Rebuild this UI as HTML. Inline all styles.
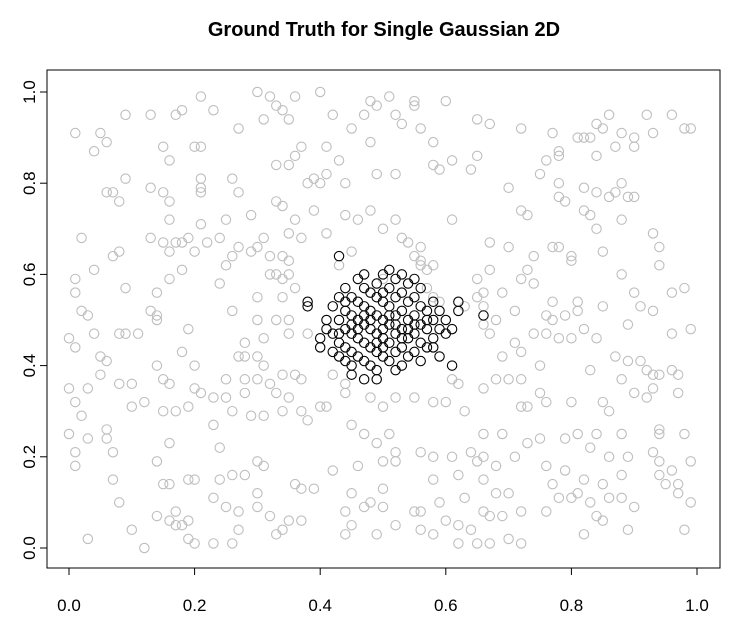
<!DOCTYPE html>
<html><head><meta charset="utf-8"><style>
html,body{margin:0;padding:0;background:#fff;}
svg{display:block;font-family:"Liberation Sans",Arial,sans-serif;}
</style></head><body>
<svg id="chart" width="743" height="630" viewBox="0 0 743 630">
<text x="384" y="36" text-anchor="middle" font-size="20" font-weight="bold">Ground Truth for Single Gaussian 2D</text>
<rect x="47" y="70" width="673" height="498" fill="none" stroke="#000" stroke-width="1"/>
<g id="xaxis"></g>
<g id="yaxis"></g>
<g id="gray"></g>
<g id="black"></g>
</svg>
<script>
const xTicks=[0,0.2,0.4,0.6,0.8,1.0];
const yTicks=[0,0.2,0.4,0.6,0.8,1.0];
const tickLabels=["0.0","0.2","0.4","0.6","0.8","1.0"];
const grayX=[0.01,0.05,0.04,0.06,0.09,0.13,0.07,0.09,0.06,0.08,0.02,0.01,0.01,0.02,0.03,0.07,0.08,0.04,0.09,0.00,0.01,0.04,0.08,0.09,0.11,0.05,0.06,0.05,0.00,0.03,0.08,0.10,0.01,0.02,0.10,0.00,0.03,0.06,0.06,0.07,0.01,0.01,0.07,0.08,0.10,0.03,0.12,
0.18,0.15,0.16,0.17,0.13,0.15,0.16,0.16,0.13,0.15,0.16,0.17,0.18,0.19,0.20,0.16,0.18,0.14,0.13,0.14,0.14,0.19,0.18,0.20,0.14,0.15,0.16,0.12,0.15,0.17,0.19,0.20,0.16,0.14,0.15,0.16,0.19,0.20,0.14,0.16,0.17,0.18,0.19,0.17,0.19,0.2,0.2,0.21,0.21,0.22,0.21,0.21,0.21,0.21,0.24,
0.23,0.27,0.30,0.32,0.33,0.34,0.36,0.31,0.35,0.37,0.36,0.33,0.35,0.38,0.39,0.26,0.25,0.29,0.27,0.33,0.34,0.36,0.37,0.35,0.31,0.30,0.29,0.32,0.34,0.35,0.27,0.25,0.26,0.24,0.26,0.30,0.30,0.32,0.33,0.34,0.35,0.36,0.34,0.33,0.35,0.35,0.28,0.27,0.28,0.30,0.31,0.31,0.38,0.25,0.28,0.30,0.32,0.34,0.36,0.37,0.33,0.35,0.28,0.25,0.23,0.21,0.26,0.29,0.31,0.34,0.37,0.38,0.23,0.24,0.30,0.31,0.24,0.26,0.28,0.36,0.37,0.30,0.23,0.25,0.27,0.30,0.32,0.35,0.37,0.27,0.33,0.34,0.23,0.26,0.39,0.39,
0.40,0.42,0.45,0.47,0.48,0.49,0.51,0.52,0.55,0.55,0.53,0.56,0.58,0.48,0.41,0.43,0.40,0.41,0.44,0.49,0.52,0.58,0.59,0.61,0.44,0.46,0.48,0.50,0.52,0.53,0.54,0.55,0.56,0.56,0.56,0.57,0.58,0.41,0.43,0.45,0.50,0.57,0.58,0.59,0.42,0.44,0.41,0.40,0.44,0.48,0.50,0.52,0.55,0.58,0.60,0.45,0.47,0.51,0.52,0.49,0.50,0.52,0.46,0.56,0.58,0.58,0.42,0.45,0.47,0.48,0.50,0.50,0.55,0.56,0.45,0.44,0.52,0.60,0.49,0.58,0.56,0.44,0.59,
0.60,0.65,0.67,0.72,0.77,0.78,0.76,0.81,0.78,0.65,0.64,0.70,0.72,0.73,0.78,0.78,0.79,0.75,0.61,0.67,0.70,0.67,0.73,0.74,0.77,0.78,0.80,0.80,0.65,0.66,0.69,0.72,0.74,0.63,0.65,0.66,0.68,0.71,0.76,0.77,0.77,0.79,0.66,0.67,0.71,0.74,0.76,0.78,0.80,0.69,0.72,0.75,0.68,0.70,0.72,0.75,0.76,0.72,0.73,0.80,0.62,0.61,0.63,0.66,0.66,0.69,0.73,0.75,0.79,0.61,0.64,0.66,0.68,0.71,0.76,0.77,0.79,0.62,0.65,0.63,0.66,0.68,0.70,0.72,0.76,0.78,0.80,0.62,0.64,0.66,0.67,0.69,0.70,0.72,0.62,0.65,0.67,
0.84,0.85,0.86,0.88,0.90,0.92,0.93,0.96,0.98,0.99,0.83,0.82,0.84,0.87,0.90,0.82,0.84,0.86,0.87,0.88,0.89,0.90,0.82,0.83,0.88,0.93,0.94,0.94,0.84,0.85,0.88,0.90,0.96,0.98,0.81,0.85,0.89,0.91,0.93,0.96,0.99,0.82,0.84,0.83,0.87,0.89,0.91,0.92,0.93,0.94,0.96,0.97,0.88,0.93,0.90,0.92,0.97,0.85,0.86,0.81,0.84,0.88,0.94,0.94,0.98,0.83,0.86,0.89,0.93,0.94,0.96,0.99,0.82,0.85,0.88,0.94,0.95,0.97,0.81,0.83,0.86,0.88,0.90,0.97,0.84,0.85,0.89,0.99,0.98,0.82,0.81];
const grayY=[0.91,0.91,0.87,0.89,0.95,0.95,0.78,0.81,0.78,0.76,0.68,0.59,0.56,0.52,0.51,0.64,0.65,0.61,0.57,0.46,0.44,0.47,0.47,0.47,0.47,0.42,0.41,0.38,0.35,0.35,0.36,0.36,0.32,0.29,0.31,0.25,0.24,0.26,0.24,0.21,0.21,0.18,0.15,0.10,0.04,0.02,0.00,
0.96,0.88,0.85,0.95,0.79,0.78,0.76,0.72,0.68,0.67,0.65,0.67,0.67,0.68,0.65,0.59,0.61,0.56,0.52,0.51,0.50,0.48,0.43,0.40,0.40,0.37,0.36,0.32,0.30,0.30,0.31,0.35,0.23,0.19,0.14,0.14,0.15,0.15,0.07,0.06,0.05,0.05,0.06,0.08,0.02,0.01,0.88,0.88,0.99,0.67,0.81,0.79,0.78,0.71,0.68,
0.96,0.92,1.0,0.99,0.97,0.96,0.99,0.94,0.94,0.88,0.86,0.84,0.84,0.8,0.81,0.81,0.72,0.73,0.78,0.76,0.75,0.72,0.68,0.69,0.68,0.66,0.65,0.64,0.64,0.63,0.66,0.62,0.64,0.58,0.52,0.55,0.5,0.6,0.6,0.59,0.6,0.57,0.55,0.5,0.5,0.47,0.45,0.42,0.42,0.42,0.4,0.46,0.47,0.37,0.37,0.37,0.36,0.38,0.38,0.37,0.34,0.33,0.34,0.33,0.33,0.34,0.30,0.29,0.29,0.3,0.3,0.28,0.27,0.22,0.19,0.18,0.15,0.16,0.16,0.14,0.13,0.12,0.11,0.09,0.08,0.09,0.07,0.06,0.06,0.04,0.03,0.04,0.01,0.01,0.13,0.74,
1.0,0.95,0.92,0.95,0.98,0.97,0.99,0.95,0.97,0.98,0.93,0.92,0.89,0.89,0.88,0.85,0.8,0.82,0.80,0.82,0.82,0.84,0.83,0.85,0.73,0.72,0.74,0.7,0.72,0.68,0.67,0.64,0.66,0.63,0.62,0.61,0.62,0.69,0.62,0.65,0.59,0.57,0.55,0.54,0.38,0.36,0.31,0.31,0.34,0.33,0.31,0.33,0.33,0.32,0.32,0.27,0.25,0.25,0.21,0.23,0.19,0.19,0.18,0.21,0.20,0.15,0.17,0.12,0.09,0.1,0.13,0.09,0.08,0.08,0.05,0.03,0.05,0.06,0.03,0.03,0.04,0.08,0.10,
0.98,0.94,0.93,0.92,0.91,0.87,0.85,0.90,0.86,0.86,0.83,0.79,0.74,0.73,0.77,0.8,0.76,0.82,0.72,0.67,0.66,0.61,0.61,0.64,0.66,0.66,0.64,0.63,0.59,0.56,0.56,0.59,0.58,0.53,0.55,0.53,0.50,0.52,0.51,0.50,0.54,0.51,0.49,0.47,0.45,0.47,0.47,0.46,0.46,0.42,0.43,0.40,0.37,0.37,0.37,0.34,0.32,0.31,0.31,0.32,0.36,0.37,0.30,0.35,0.25,0.25,0.23,0.24,0.24,0.20,0.21,0.20,0.18,0.20,0.18,0.14,0.17,0.16,0.19,0.11,0.15,0.12,0.12,0.08,0.08,0.11,0.11,0.05,0.04,0.08,0.07,0.07,0.02,0.01,0.01,0.01,0.01,
0.93,0.92,0.95,0.91,0.9,0.95,0.91,0.95,0.92,0.92,0.90,0.90,0.86,0.88,0.88,0.79,0.78,0.77,0.78,0.8,0.77,0.77,0.74,0.73,0.72,0.69,0.66,0.62,0.70,0.65,0.6,0.56,0.56,0.57,0.54,0.53,0.49,0.53,0.52,0.47,0.48,0.48,0.46,0.39,0.42,0.41,0.41,0.39,0.38,0.38,0.39,0.38,0.37,0.35,0.34,0.33,0.34,0.32,0.30,0.25,0.25,0.25,0.25,0.26,0.25,0.22,0.20,0.20,0.21,0.19,0.17,0.19,0.15,0.14,0.16,0.16,0.14,0.14,0.12,0.1,0.11,0.11,0.09,0.12,0.07,0.06,0.04,0.1,0.04,0.03,0.52];
const blackX=[0.43,0.66,0.61,0.47,0.49,0.45,0.44,0.43,0.38,0.38,0.40,0.40,0.41,0.41,0.42,0.42,0.43,0.43,0.43,0.44,0.44,0.44,0.44,0.45,0.45,0.45,0.45,0.45,0.46,0.46,0.46,0.46,0.46,0.47,0.47,0.47,0.47,0.47,0.48,0.48,0.48,0.48,0.48,0.49,0.49,0.49,0.49,0.49,0.49,0.50,0.50,0.50,0.50,0.50,0.51,0.51,0.51,0.51,0.51,0.52,0.52,0.52,0.52,0.52,0.52,0.53,0.53,0.53,0.53,0.53,0.54,0.54,0.54,0.54,0.54,0.55,0.55,0.55,0.55,0.56,0.56,0.56,0.56,0.57,0.57,0.57,0.58,0.58,0.58,0.59,0.59,0.60,0.60,0.61,0.62,0.62,0.58,0.59,0.47,0.53,0.51,0.55,0.45,0.43,0.50,0.48,0.52,0.50,0.54,0.46,0.51,0.49,0.53,0.47,0.55,0.44,0.57,0.50,0.56,0.42];
const blackY=[0.64,0.51,0.40,0.37,0.37,0.38,0.41,0.42,0.54,0.53,0.46,0.44,0.48,0.50,0.53,0.47,0.55,0.50,0.45,0.57,0.52,0.48,0.44,0.55,0.51,0.47,0.43,0.40,0.59,0.54,0.50,0.46,0.42,0.57,0.53,0.49,0.45,0.41,0.56,0.52,0.48,0.44,0.40,0.58,0.55,0.51,0.47,0.43,0.39,0.60,0.54,0.50,0.46,0.42,0.57,0.53,0.49,0.45,0.41,0.59,0.55,0.51,0.47,0.43,0.39,0.56,0.52,0.48,0.44,0.40,0.58,0.54,0.50,0.46,0.42,0.55,0.51,0.47,0.43,0.53,0.49,0.45,0.41,0.52,0.48,0.44,0.54,0.50,0.46,0.52,0.48,0.50,0.47,0.48,0.54,0.52,0.44,0.42,0.60,0.60,0.61,0.59,0.49,0.47,0.56,0.50,0.49,0.44,0.48,0.48,0.51,0.45,0.46,0.51,0.49,0.54,0.50,0.48,0.57,0.43];

const NS='http://www.w3.org/2000/svg';
const xs=v=>69+v*628;
const ys=v=>548-v*456;
function mk(tag,attrs,parent){const e=document.createElementNS(NS,tag);for(const k in attrs)e.setAttribute(k,attrs[k]);parent.appendChild(e);return e;}
const xa=document.getElementById('xaxis'),ya=document.getElementById('yaxis');
mk('line',{x1:xs(0),x2:xs(1),y1:568,y2:568,stroke:'#000'},xa);
mk('line',{x1:47,x2:47,y1:ys(0),y2:ys(1),stroke:'#000'},ya);
xTicks.forEach((t,i)=>{
  const l=mk('line',{x1:xs(t),x2:xs(t),y1:568,y2:575,stroke:'#000'},xa);
  
  
  const tx=mk('text',{x:xs(t),y:611,'text-anchor':'middle','font-size':'17'},xa);
  tx.textContent=tickLabels[i];
  
  
});
yTicks.forEach((t,i)=>{
  const l=mk('line',{x1:40,x2:47,y1:ys(t),y2:ys(t),stroke:'#000'},ya);
  
  
  const tx=mk('text',{x:0,y:0,'text-anchor':'middle','font-size':'17',transform:`translate(35,${ys(t)}) rotate(-90)`},ya);
  tx.textContent=tickLabels[i];
  
  
});
const gg=document.getElementById('gray');
grayX.forEach((v,i)=>{
  const c=mk('circle',{cx:xs(v),cy:ys(grayY[i]),r:4.7,fill:'none',stroke:'#bebebe','stroke-width':1.1},gg);
  
  
});
const bg=document.getElementById('black');
blackX.forEach((v,i)=>{
  const c=mk('circle',{cx:xs(v),cy:ys(blackY[i]),r:4.7,fill:'none',stroke:'#000','stroke-width':1.1},bg);
  
  
});
</script>
</body></html>
